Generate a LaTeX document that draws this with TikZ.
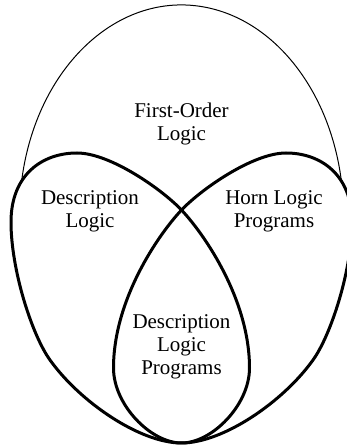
\documentclass[tikz,border=0pt]{standalone}
\usepackage{fontspec}
\setmainfont{Liberation Serif}
\newcommand{\dropshape}{(181.5,2) .. controls (212,2) and (249.5,40) .. (249.5,77)
                        .. controls (249.5,145) and (205,210) .. (181.5,235)
                        .. controls (161.5,256) and (110,292) .. (77,292)
                        .. controls (42,292) and (11,270) .. (11,223)
                        .. controls (11,175) and (32,110) .. (50,85)
                        .. controls (80,43) and (140,2) .. (181.5,2) -- cycle}

\begin{document}
\begin{tikzpicture}[x=0.5pt,y=0.5pt,
                    thinline/.style={line width=0.5pt},
                    thickline/.style={line width=1.5pt,line join=round},
                    label/.style={align=center,font=\fontsize{10.5}{11.6}\selectfont,inner sep=0pt}]
                    \useasboundingbox (0,0) rectangle (347,445);
                    % first-order logic (upper part of the outline)
                    \draw[thinline] (21.5,262.9) arc[start angle=171, end angle=9, x radius=162, y radius=210];
                    % description logic, and its mirror image: horn logic programs
                    \draw[thickline] \dropshape;
                    \draw[thickline, shift={(363,0)}, xscale=-1] \dropshape;
                    \node[label] (fol) at (181.5,321) {First-Order\\Logic};
                    \node[label] (dl) at (90,234) {Description\\Logic};
                    \node[label] (hlp) at (274,234) {Horn Logic\\Programs};
                    \node[label] (dlp) at (181.5,98) {Description\\Logic\\Programs};
                \end{tikzpicture}
\end{document}
